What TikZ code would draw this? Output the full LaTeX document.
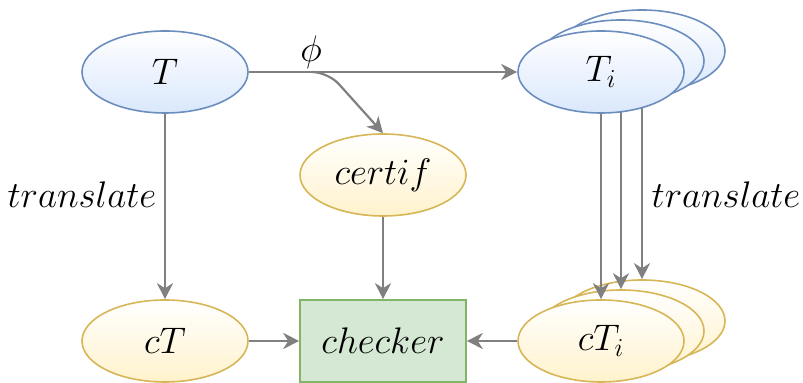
\RequirePackage{fix-cm}
\documentclass[tikz,border=0pt]{standalone}
\usepackage{xcolor}
\usetikzlibrary{
    arrows.meta,
    shapes,
    positioning,
    calc
}
\definecolor{blueline}{HTML}{6C8EBF}
\definecolor{bluefill}{HTML}{DAE8FC}
\definecolor{yellowline}{HTML}{D6B656}
\definecolor{yellowfill}{HTML}{FFF2CC}
\definecolor{greenline}{HTML}{82B366}
\definecolor{greenfill}{HTML}{D5E8D4}
\definecolor{edgegray}{HTML}{808080}
\pgfdeclarelayer{back}
\pgfdeclarelayer{bg}
\pgfsetlayers{back,bg,main}

\begin{document}
\begin{tikzpicture}[x=0.5pt, y=-0.5pt, >={Stealth[length=8pt,width=8pt,inset=2.5pt]},
    font=\fontsize{18.5}{22}\selectfont,
    blue-node/.style={ellipse, draw=blueline, line width=0.8pt, top color=white, bottom color=bluefill,
                minimum width=83pt, minimum height=41pt, inner sep=0pt},
    yellow-node/.style={ellipse, draw=yellowline, line width=0.8pt, top color=white, bottom color=yellowfill,
                minimum width=83pt, minimum height=41pt, inner sep=0pt},
    green-node/.style={rectangle, draw=greenline, line width=0.8pt, fill=greenfill,
                minimum width=83pt, minimum height=41pt, inner sep=0pt},
    gray-line/.style={draw=edgegray, line width=1.1pt}]
    \useasboundingbox (0,0) rectangle (803,383);
    % stacked copies behind T_i and cT_i
    \begin{pgfonlayer}{back}
        \node [blue-node] (Ti2) at (642,51) {};
        \node [blue-node] (Ti1) at (621,61) {};
        \node [yellow-node] (cTi2) at (642,321) {};
        \node [yellow-node] (cTi1) at (621,331) {};
    \end{pgfonlayer}
    % top row
    \node [blue-node] (T) at (165,72) {$T$};
    \node [blue-node] (Ti) at (601,72) {$T_i$};
    \node [yellow-node] (certif) at (383,175) {$certif$};
    % bottom row
    \node [yellow-node] (cT) at (165,341) {$cT$};
    \node [green-node] (checker) at (383,341) {$checker$};
    \node [yellow-node] (cTi) at (601,341) {$cT_i$};
    \coordinate (split) at (312,72);
    \node (phi) at (311,52) {$\phi$};
    \node (tl-left) at (82,195) {$translate$};
    \node (tl-right) at (726,195) {$translate$};
    \begin{pgfonlayer}{bg}
        \draw [->, gray-line] (T) -- (Ti);
        \draw [->, gray-line, rounded corners=8pt] (split) -- ++(16,0) -- (certif.north);
        \draw [->, gray-line] (T) -- (cT);
        \draw [->, gray-line] (certif) -- (checker);
        \draw [->, gray-line] (cT) -- (checker);
        \draw [->, gray-line] (cTi) -- (checker);
        \draw [->, gray-line] (Ti.south) -- (cTi.north);
        \draw [->, gray-line] (Ti1.south) -- (cTi1.north);
        \draw [->, gray-line] (Ti2.south) -- (cTi2.north);
    \end{pgfonlayer}
\end{tikzpicture}
\end{document}
